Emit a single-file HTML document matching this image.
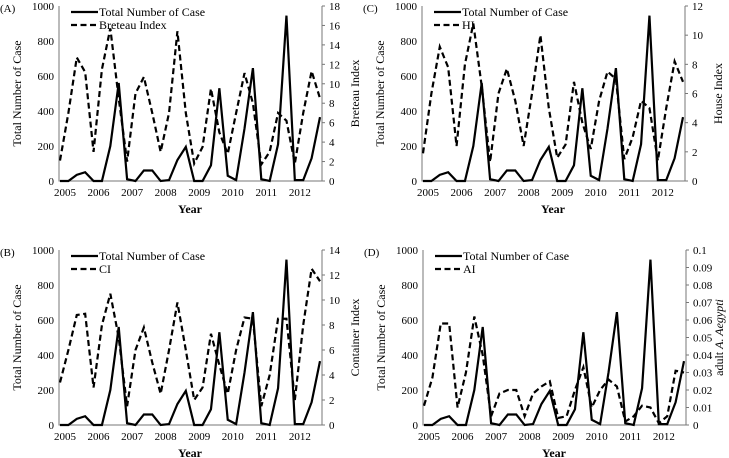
<!DOCTYPE html>
<html><head><meta charset="utf-8"><style>
html,body{margin:0;padding:0;background:#fff;}
svg{display:block;font-family:"Liberation Serif",serif;}
</style></head><body>
<svg id="chart" width="729" height="458" viewBox="0 0 729 458"></svg>
<script>
const years = ["2005","2006","2007","2008","2009","2010","2011","2012"];
const cases = [0,0,35,50,0,0,200,560,10,0,60,60,0,5,120,195,0,0,90,530,30,5,300,645,10,0,210,945,5,5,130,365];
const breteau = [2.1,7,12.7,11.2,3,11.5,15.7,8.5,2,9,10.7,7,3,7,15.4,7,1.8,3.5,9.5,5,2.8,7,11.1,8,1.7,3,7,6.2,1.8,7,11.3,8.5];
const ci = [3.4,6,8.8,8.9,3,8,10.5,7,1.5,6,7.8,5,2.5,6,9.8,6,2,3,7.3,4.8,2.5,6,8.6,8.5,1.5,4,8.5,8.5,2,8,12.5,11.5];
const hi = [1.9,6,9.2,7.8,2.4,8,10.8,6.5,1.3,6,7.7,5.5,2.4,6,10,5,1.6,2.5,6.8,4,2.2,5.5,7.5,7,1.5,3,5.5,5,1.4,5,8.2,6.8];
const ai = [0.011,0.027,0.058,0.058,0.01,0.03,0.062,0.04,0.005,0.018,0.02,0.02,0.005,0.018,0.022,0.025,0.004,0.005,0.02,0.033,0.01,0.02,0.026,0.022,0.002,0.005,0.011,0.01,0.001,0.005,0.031,0.03];
const leftTicks = [0,200,400,600,800,1000];

const NS="http://www.w3.org/2000/svg";
const svg=document.getElementById('chart');
function mk(tag,attrs,parent,text){const e=document.createElementNS(NS,tag);for(const k in attrs)e.setAttribute(k,attrs[k]);if(text!==undefined)e.textContent=text;(parent||svg).appendChild(e);return e;}

function panel(ox,oy,tag,name,vals,rmax,rstep,dec,rtitle,legendLabel,italicTitle){
  const g=mk('g',{transform:`translate(${ox},${oy})`});
  
  
  const x0=60,x1=320,y0=181,y1=6;
  const xs=i=>x0+(x1-x0)*i/(cases.length-1);
  const yl=v=>y0-(y0-y1)*v/1000;
  const yr=v=>y0-(y0-y1)*v/rmax;
  const t=mk('text',{x:0,y:12,'font-size':11},g,tag);
  
  const ax=mk('path',{d:`M${x0-1},${y1}V${y0}H${x1+2}V${y1}`,stroke:'#777',fill:'none','stroke-width':1},g);
  
  leftTicks.forEach(v=>{
    const l=mk('text',{x:x0-6,y:yl(v)+4,'font-size':11,'text-anchor':'end'},g,v);
    
  });
  for(let v=0;v<=rmax+1e-9;v+=rstep){
    mk('line',{x1:x1+2,x2:x1+5,y1:yr(v),y2:yr(v),stroke:'#777'},g);
    const l=mk('text',{x:x1+9,y:yr(v)+4,'font-size':11},g,dec?(Math.round(v*100)/100).toString():Math.round(v));
    
  }
  years.forEach((y,i)=>{
    const l=mk('text',{x:xs(i*4)+5,y:y0+15,'font-size':11,'text-anchor':'middle'},g,y);
    
  });
  const xt=mk('text',{x:(x0+x1)/2,y:y0+32,'font-size':12,'font-weight':'bold','text-anchor':'middle'},g,'Year');
  
  const lt=mk('text',{transform:`translate(21,${(y0+y1)/2}) rotate(-90)`,'font-size':12,'text-anchor':'middle'},g,'Total Number of Case');
  
  const rt=mk('text',{transform:`translate(${x1+39},${(y0+y1)/2}) rotate(-90)`,'font-size':12,'text-anchor':'middle'},g);
  
  if(italicTitle){mk('tspan',{},rt,'adult ');mk('tspan',{'font-style':'italic'},rt,'A. Aegypti');}else rt.textContent=rtitle;
  const p1=mk('polyline',{points:cases.map((v,i)=>xs(i)+','+yl(v)).join(' '),fill:'none',stroke:'#000','stroke-width':2.2},g);
  
  const p2=mk('polyline',{points:vals.map((v,i)=>xs(i)+','+yr(v)).join(' '),fill:'none',stroke:'#000','stroke-width':2.2,'stroke-dasharray':'6,3.5'},g);
  
  const lg=mk('g',{},g);
  
  mk('line',{x1:71,x2:98,y1:12,y2:12,stroke:'#000','stroke-width':2.2},lg);
  mk('text',{x:99,y:16,'font-size':12},lg,'Total Number of Case');
  mk('line',{x1:71,x2:98,y1:25,y2:25,stroke:'#000','stroke-width':2.2,'stroke-dasharray':'6,3.5'},lg);
  mk('text',{x:99,y:29,'font-size':12},lg,legendLabel);
}
panel(0,0,'(A)','a',breteau,18,2,false,'Breteau Index','Breteau Index');
panel(363,0,'(C)','c',hi,12,2,false,'House Index','HI');
panel(0,244,'(B)','b',ci,14,2,false,'Container Index','CI');
panel(364,244,'(D)','d',ai,0.1,0.01,true,'adult A. Aegypti','AI',true);
</script>
</body></html>
